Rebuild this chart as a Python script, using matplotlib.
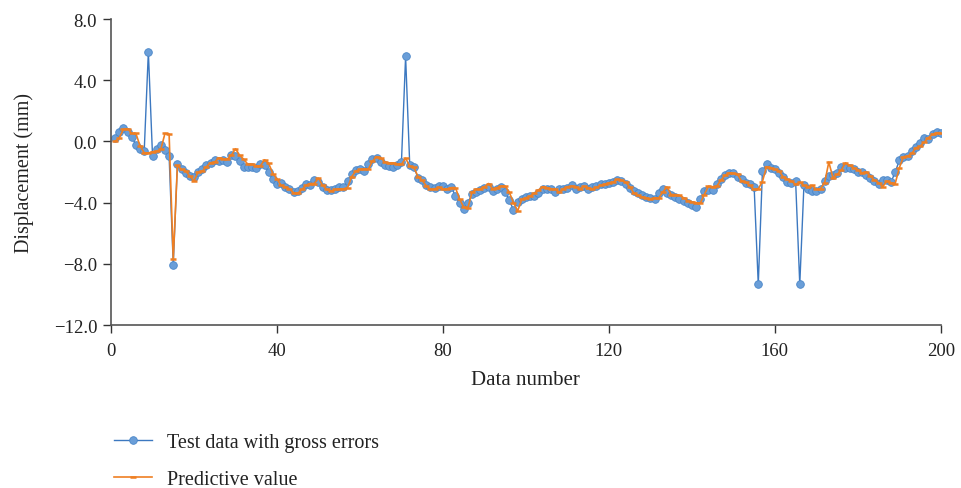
import numpy as np
import matplotlib
matplotlib.use("Agg")
import matplotlib.pyplot as plt

# data (index 1..200)

data_number = np.arange(1, 201)

test_data = [
    0.2, 0.63, 0.87, 0.63, 0.3, -0.22, -0.48, -0.65, 5.86, -0.92,
    -0.52, -0.24, -0.57, -0.96, -8.06, -1.5, -1.79, -2.09, -2.27, -2.3,
    -2.0, -1.83, -1.57, -1.39, -1.22, -1.28, -1.22, -1.35, -0.87, -0.96,
    -1.28, -1.65, -1.65, -1.65, -1.72, -1.48, -1.57, -2.0, -2.48, -2.75,
    -2.7, -2.96, -3.14, -3.31, -3.25, -3.03, -2.81, -2.88, -2.55, -2.66,
    -2.96, -3.18, -3.18, -3.1, -3.0, -3.0, -2.6, -2.16, -1.87, -1.83,
    -1.94, -1.5, -1.18, -1.07, -1.35, -1.57, -1.61, -1.66, -1.57, -1.35,
    5.56, -1.55, -1.68, -2.38, -2.53, -2.84, -3.0, -3.05, -2.94, -2.92,
    -3.14, -2.96, -3.57, -4.05, -4.44, -4.0, -3.46, -3.29, -3.18, -3.02,
    -2.96, -3.25, -3.1, -2.96, -3.31, -3.84, -4.49, -3.97, -3.75, -3.64,
    -3.57, -3.57, -3.4, -3.14, -3.1, -3.14, -3.31, -3.14, -3.1, -3.02,
    -2.83, -3.14, -2.96, -2.92, -3.14, -3.0, -2.9, -2.81, -2.75, -2.7,
    -2.66, -2.53, -2.59, -2.81, -3.03, -3.25, -3.4, -3.53, -3.62, -3.68,
    -3.75, -3.36, -3.14, -3.4, -3.53, -3.62, -3.75, -3.9, -4.05, -4.18,
    -4.27, -3.79, -3.25, -3.18, -3.18, -2.81, -2.48, -2.22, -2.05, -2.05,
    -2.31, -2.48, -2.7, -2.81, -2.96, -9.35, -1.94, -1.5, -1.72, -1.79,
    -2.05, -2.31, -2.66, -2.7, -2.59, -9.35, -2.88, -3.09, -3.24, -3.24,
    -3.14, -2.59, -2.27, -2.22, -2.05, -1.66, -1.72, -1.72, -1.83, -2.0,
    -2.0, -2.22, -2.38, -2.59, -2.81, -2.53, -2.53, -2.66, -2.0, -1.24,
    -0.99, -0.96, -0.63, -0.35, -0.13, 0.22, 0.17, 0.5, 0.61, 0.57,
]

predictive = [
    0.0, 0.24, 0.8, 0.83, 0.52, 0.52, -0.3, -0.74, -0.76, -0.67,
    -0.64, -0.52, 0.52, 0.48, -7.67, -1.57, -1.83, -1.94, -2.27, -2.59,
    -2.0, -1.94, -1.65, -1.39, -1.35, -1.07, -1.13, -1.17, -0.9, -0.48,
    -0.9, -1.17, -1.5, -1.5, -1.6, -1.6, -1.2, -1.44, -2.1, -2.45,
    -2.88, -2.96, -3.1, -3.35, -3.4, -3.14, -2.88, -2.75, -2.75, -2.4,
    -2.88, -3.14, -3.25, -3.14, -3.1, -3.1, -3.03, -2.3, -1.94, -1.83,
    -1.79, -1.83, -1.29, -1.0, -1.07, -1.35, -1.44, -1.4, -1.5, -1.5,
    -1.1, -1.61, -1.7, -2.3, -2.55, -2.9, -3.14, -3.1, -3.0, -3.1,
    -3.1, -3.02, -3.02, -3.75, -4.3, -4.36, -3.33, -3.14, -3.1, -2.96,
    -2.75, -3.1, -3.02, -2.92, -2.92, -3.33, -4.0, -4.55, -3.79, -3.68,
    -3.57, -3.4, -3.18, -2.96, -3.02, -3.1, -3.1, -3.33, -3.1, -2.96,
    -2.92, -2.96, -3.1, -2.92, -3.02, -3.14, -3.0, -2.88, -2.81, -2.7,
    -2.66, -2.48, -2.53, -2.66, -2.96, -3.36, -3.53, -3.62, -3.68, -3.75,
    -3.68, -3.7, -3.3, -2.98, -3.47, -3.47, -3.53, -3.68, -3.9, -3.96,
    -4.0, -4.05, -3.47, -2.92, -2.96, -2.92, -2.53, -2.22, -2.05, -2.09,
    -2.16, -2.59, -2.66, -2.88, -3.14, -3.1, -2.62, -1.65, -1.72, -1.83,
    -1.94, -2.31, -2.48, -2.59, -2.81, -2.66, -2.88, -2.96, -2.88, -3.14,
    -3.09, -2.7, -1.35, -2.38, -2.16, -1.88, -1.4, -1.57, -1.72, -1.88,
    -2.05, -2.0, -2.27, -2.53, -2.7, -2.96, -2.59, -2.7, -2.75, -1.72,
    -1.0, -0.96, -0.78, -0.42, -0.31, -0.05, 0.24, 0.46, 0.57, 0.57,
]

x_ticks = [0, 40, 80, 120, 160, 200]
y_ticks = [-12.0, -8.0, -4.0, 0.0, 4.0, 8.0]

plt.rcParams['font.family'] = ['Liberation Serif', 'DejaVu Serif']

fig = plt.figure(figsize=(9.62, 4.89), dpi=100)
ax = fig.add_axes([0.1154, 0.3333, 0.8626, 0.6257])

# test data with gross errors
ax.plot(data_number, test_data, color='#3c78c0', linewidth=1.0,
        marker='o', markersize=5.5, markerfacecolor='#6a9ed8',
        markeredgecolor='#4a86c8', markeredgewidth=0.6,
        label='Test data with gross errors', zorder=2)

# predictive value
ax.plot(data_number, predictive, color='#ef7f22', linewidth=1.2,
        marker='_', markersize=5, markeredgewidth=1.8,
        label='Predictive value', zorder=3)

# axes formatting
ax.set_xlim(0, 200)
ax.set_ylim(-12, 8)
ax.set_xticks(x_ticks)
ax.set_yticks(y_ticks)
ax.set_yticklabels([f"{v:.1f}".replace('-', '\u2212') for v in y_ticks])
ax.spines['right'].set_visible(False)
ax.spines['top'].set_visible(False)
for s in ['left', 'bottom']:
    ax.spines[s].set_color('#555555')
    ax.spines[s].set_linewidth(1.2)
ax.tick_params(axis='both', direction='out', length=6, width=1,
               color='#333333', labelsize=13.5, labelcolor='#222222')
ax.tick_params(axis='x', pad=6)
ax.tick_params(axis='y', pad=4)

ax.set_xlabel('Data number', fontsize=15, color='#222222', labelpad=8)
ax.set_ylabel('Displacement (mm)', fontsize=14.5, color='#222222', labelpad=14)

fig.legend(loc='upper left', bbox_to_anchor=(0.1, 0.149), frameon=False,
           fontsize=14.5, handlelength=1.85, handletextpad=0.75,
           labelspacing=0.85, numpoints=1, labelcolor='#222222')

plt.savefig('out.png', dpi=100)
